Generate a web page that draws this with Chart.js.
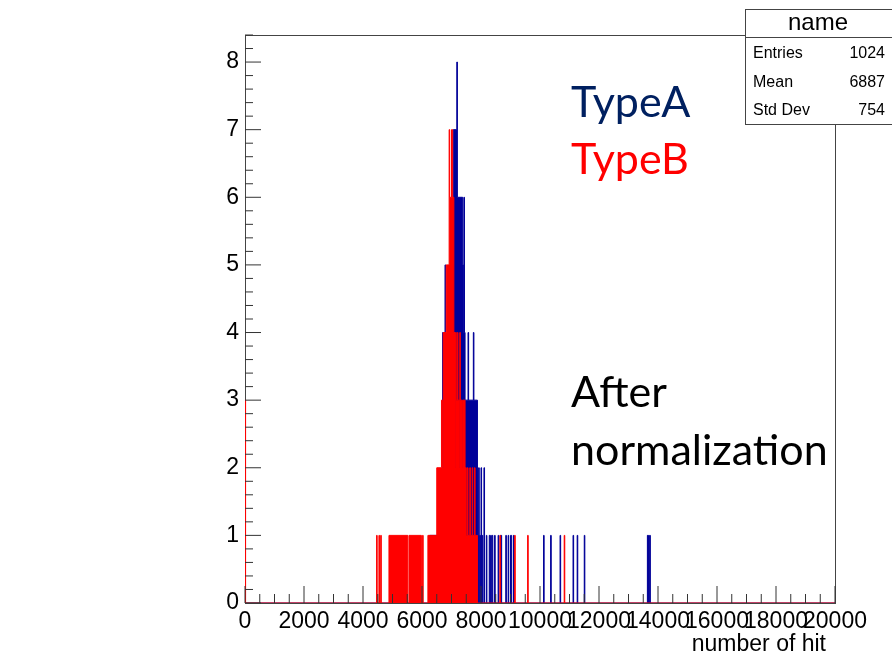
<!DOCTYPE html>
<html>
<head>
<meta charset="utf-8">
<title>number of hit</title>
<script src="https://cdn.jsdelivr.net/npm/chart.js@4.4.0/dist/chart.umd.min.js"></script>
<style>
  html, body { margin: 0; padding: 0; background: #fff; }
  canvas { display: block; }
</style>
</head>
<body>
<canvas id="hist" width="892" height="654"></canvas>
<script>
// Histogram contents, bin width 20. Each row is a run of equal bins:
// [low edge, high edge, entries]
const typeA = [
  [6260, 6700, 1], [6700, 6720, 4], [6720, 6780, 2], [6780, 6800, 5],
  [6800, 7040, 3], [7040, 7060, 5], [7060, 7180, 7], [7180, 7200, 8],
  [7200, 7380, 6], [7380, 7400, 5], [7400, 7420, 4], [7420, 7440, 6],
  [7440, 7460, 4], [7460, 7560, 3], [7560, 7580, 4], [7580, 7740, 3],
  [7740, 7760, 4], [7760, 7880, 3], [7880, 7900, 1], [7920, 7940, 2],
  [7960, 7980, 1], [8000, 8020, 2], [8040, 8060, 1], [8100, 8120, 2],
  [8180, 8200, 1], [8280, 8320, 1], [8360, 8400, 1], [8460, 8480, 1],
  [8580, 8600, 1], [8660, 8700, 1], [8840, 8860, 1], [8920, 8940, 1],
  [9000, 9040, 1], [9100, 9120, 1], [10120, 10140, 1], [10360, 10380, 1],
  [10680, 10700, 1], [11120, 11140, 1], [11260, 11280, 1], [11500, 11520, 1],
  [13640, 13660, 1], [13680, 13700, 1], [13720, 13740, 1]
];
const typeB = [
  [0, 20, 3], [4460, 4480, 1], [4540, 4560, 1], [4600, 4620, 1],
  [4880, 5520, 1], [5560, 5980, 1], [6020, 6040, 1], [6200, 6500, 1],
  [6500, 6660, 2], [6660, 6700, 3], [6700, 6720, 2], [6720, 6820, 4],
  [6820, 6920, 5], [6920, 6940, 7], [6940, 7000, 6], [7000, 7040, 7],
  [7040, 7080, 6], [7080, 7120, 4], [7120, 7140, 2], [7140, 7160, 4],
  [7160, 7200, 3], [7200, 7220, 4], [7220, 7260, 3], [7260, 7280, 2],
  [7280, 7300, 4], [7300, 7360, 3], [7360, 7380, 2], [7380, 7460, 3],
  [7460, 7500, 2], [7500, 7540, 1], [7540, 7560, 2], [7560, 7620, 1],
  [7620, 7640, 2], [7640, 7700, 1], [7700, 7720, 2], [7720, 7780, 1],
  [7780, 7800, 2], [7800, 7880, 1], [8640, 8660, 1], [9140, 9160, 1],
  [9580, 9600, 1], [10820, 10840, 1]
];

const xTicks = [0, 2000, 4000, 6000, 8000, 10000, 12000, 14000, 16000, 18000, 20000];
const yTicks = [0, 1, 2, 3, 4, 5, 6, 7, 8];
const xMax = 20000;
const yMax = 8.4;
const xTitle = 'number of hit';

const statsTitle = 'name';
const statsRows = [['Entries', '1024'], ['Mean', '6887'], ['Std Dev', '754']];
const note = ['After', 'normalization'];

const rootFont = 'Liberation Sans, Arial, sans-serif';
const slideFont = 'Lato, Open Sans, sans-serif';

// turn runs into points of a step line that starts and ends on zero
function toSteps(runs) {
  const pts = [];
  let end = 0;
  runs.forEach(function(run) {
    if (run[0] > end || pts.length === 0) pts.push({x: end, y: 0});
    pts.push({x: run[0], y: run[2]});
    end = run[1];
  });
  pts.push({x: end, y: 0});
  pts.push({x: xMax, y: 0});
  return pts;
}

// frame below the histograms, ROOT style inner ticks above them
const frame = {
  id: 'frame',
  beforeDatasetsDraw(chart) {
    const a = chart.chartArea;
    const ctx = chart.ctx;
    ctx.save();
    ctx.strokeStyle = '#444';
    ctx.lineWidth = 1;
    ctx.strokeRect(a.left + 0.5, a.top + 0.5, a.right - a.left, a.bottom - a.top);
    ctx.restore();
  },
  afterDatasetsDraw(chart) {
    const a = chart.chartArea;
    const ctx = chart.ctx;
    const x = chart.scales.x;
    const y = chart.scales.y;
    ctx.save();
    ctx.strokeStyle = '#333';
    ctx.lineWidth = 1;
    ctx.beginPath();
    for (let v = 0; v <= xMax; v += 500) {
      const px = x.getPixelForValue(v);
      const len = v % 2000 === 0 ? 17 : 9;
      ctx.moveTo(px, a.bottom);
      ctx.lineTo(px, a.bottom - len);
    }
    for (let i = 0; i * 0.2 <= yMax + 1e-6; i++) {
      const py = y.getPixelForValue(i * 0.2);
      const len = i % 5 === 0 ? 16 : 8;
      ctx.moveTo(a.left, py);
      ctx.lineTo(a.left + len, py);
    }
    ctx.stroke();
    ctx.restore();
  },
  afterDraw(chart) {
    const ctx = chart.ctx;
    ctx.save();

    // axis title, right aligned a little inside the frame
    ctx.fillStyle = '#000';
    ctx.font = '23px ' + rootFont;
    ctx.textAlign = 'right';
    ctx.textBaseline = 'middle';
    ctx.fillText(xTitle, chart.chartArea.right - 9, 645);

    // stats box
    ctx.fillStyle = '#fff';
    ctx.fillRect(745, 9, 160, 115);
    ctx.strokeStyle = '#444';
    ctx.lineWidth = 1;
    ctx.strokeRect(745.5, 9.5, 160, 115);
    ctx.beginPath();
    ctx.moveTo(745, 37.5);
    ctx.lineTo(892, 37.5);
    ctx.stroke();
    ctx.fillStyle = '#000';
    ctx.textAlign = 'center';
    ctx.font = '24px ' + rootFont;
    ctx.fillText(statsTitle, 818, 23);
    ctx.font = '16px ' + rootFont;
    statsRows.forEach(function(row, i) {
      const ty = 54 + i * 28.3;
      ctx.textAlign = 'left';
      ctx.fillText(row[0], 753, ty);
      ctx.textAlign = 'right';
      ctx.fillText(row[1], 885, ty);
    });

    // series names in their own colours
    ctx.textAlign = 'left';
    ctx.textBaseline = 'alphabetic';
    ctx.font = '43px ' + slideFont;
    ctx.fillStyle = '#002060';
    ctx.fillText(chart.data.datasets[1].label, 571, 117);
    ctx.fillStyle = '#ff0000';
    ctx.fillText(chart.data.datasets[0].label, 571, 174);

    ctx.fillStyle = '#000';
    ctx.fillText(note[0], 571, 407);
    ctx.fillText(note[1], 571, 465);
    ctx.restore();
  }
};

const tickFont = {family: rootFont, size: 23};

new Chart(document.getElementById('hist'), {
  type: 'line',
  data: {
    datasets: [{
      label: 'TypeB',
      data: toSteps(typeB),
      stepped: true,
      fill: 'origin',
      borderColor: '#ff0000',
      backgroundColor: '#ff0000',
      borderWidth: 1,
      pointRadius: 0,
      order: 0
    }, {
      label: 'TypeA',
      data: toSteps(typeA),
      stepped: true,
      fill: 'origin',
      borderColor: '#000099',
      backgroundColor: '#000099',
      borderWidth: 1,
      pointRadius: 0,
      order: 1
    }]
  },
  options: {
    responsive: false,
    animation: false,
    events: [],
    layout: {padding: {top: 35, right: 57, left: 0, bottom: 0}},
    plugins: {legend: {display: false}, tooltip: {enabled: false}},
    scales: {
      x: {
        type: 'linear',
        min: 0,
        max: xMax,
        grid: {display: false, drawTicks: false},
        border: {display: false},
        afterBuildTicks: function(scale) { scale.ticks = xTicks.map(v => ({value: v})); },
        afterFit: function(scale) { scale.height = 51; },
        ticks: {
          autoSkip: false, maxRotation: 0, minRotation: 0, padding: 5,
          color: '#000', font: tickFont,
          callback: v => String(v)
        }
      },
      y: {
        type: 'linear',
        min: 0,
        max: yMax,
        grid: {display: false, drawTicks: false},
        border: {display: false},
        afterBuildTicks: function(scale) { scale.ticks = yTicks.map(v => ({value: v})); },
        afterFit: function(scale) { scale.width = 245; },
        ticks: {
          padding: 6, color: '#000', font: tickFont,
          callback: v => String(v)
        }
      }
    }
  },
  plugins: [frame]
});
</script>
</body>
</html>
